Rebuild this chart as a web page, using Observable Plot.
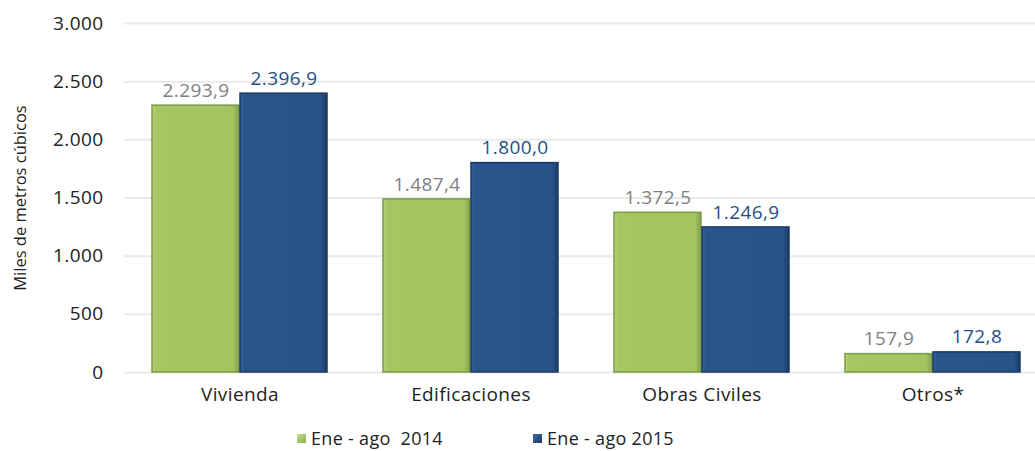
<!DOCTYPE html>
<html>
<head>
<meta charset="utf-8">
<script src="https://cdn.jsdelivr.net/npm/d3@7"></script>
<script src="https://cdn.jsdelivr.net/npm/@observablehq/plot@0.6"></script>
<style>
  html, body { margin: 0; padding: 0; background: #fff; }
  body { width: 1035px; height: 451px; overflow: hidden; font-family: "Open Sans", sans-serif; }
  #chart svg { display: block; overflow: visible; }
  #chart svg text { letter-spacing: 0.4px; }
  .legend { position: relative; height: 36px; font-size: 18px; color: #222; letter-spacing: 0.3px; }
  .legend .item { position: absolute; top: 11px; display: flex; align-items: center; white-space: pre; }
  .legend .sw { width: 9px; height: 9px; margin-right: 5px; }
</style>
</head>
<body>
<div id="chart"></div>
<div class="legend" id="legend"></div>
<script>
const categories = ["Vivienda", "Edificaciones", "Obras Civiles", "Otros*"];
const seriesNames = ["Ene - ago  2014", "Ene - ago 2015"];
const values2014 = [2293.9, 1487.4, 1372.5, 157.9];
const values2015 = [2396.9, 1800.0, 1246.9, 172.8];
const yTicks = [0, 500, 1000, 1500, 2000, 2500, 3000];
const colors = ["#a4c462", "#29528a"];
const strokes = ["#7d9a44", "#1a3a62"];
const labelColors = ["#7f7f7f", "#1f4f86"];

const loc = d3.formatLocale({decimal: ",", thousands: ".", grouping: [3], currency: ["", ""]});
const fmtTick = loc.format(",.0f");
const fmtVal = loc.format(",.1f");

const rows = (vals, s) => categories.map((c, i) => ({cat: c, series: s, value: vals[i]}));
const data2014 = rows(values2014, seriesNames[0]);
const data2015 = rows(values2015, seriesNames[1]);

const chart = Plot.plot({
  width: 1035,
  height: 415,
  marginTop: 23,
  marginBottom: 43,
  marginLeft: 124,
  marginRight: -13,
  style: {fontFamily: "Open Sans, sans-serif", fontSize: "19px", color: "#222", background: "transparent"},
  fx: {domain: categories, padding: 0, label: null, tickSize: 0, tickPadding: 15},
  x: {domain: seriesNames, paddingInner: 0.017, paddingOuter: 0.32, axis: null},
  y: {domain: [0, 3000], ticks: yTicks, tickFormat: fmtTick, tickSize: 0, tickPadding: 21, label: null},
  marks: [
    Plot.ruleY(yTicks, {stroke: "#e9e9e9", strokeWidth: 2}),
    Plot.barY(data2014, {fx: "cat", x: "series", y: "value", fill: "url(#gGreen)", stroke: strokes[0], strokeWidth: 1.5}),
    Plot.barY(data2015, {fx: "cat", x: "series", y: "value", fill: "url(#gBlue)", stroke: strokes[1], strokeWidth: 1.5}),
    Plot.text(data2014, {fx: "cat", x: "series", y: "value", text: d => fmtVal(d.value), dy: -15, fill: labelColors[0], fontSize: 19}),
    Plot.text(data2015, {fx: "cat", x: "series", y: "value", text: d => fmtVal(d.value), dy: -15, fill: labelColors[1], fontSize: 19})
  ]
});
document.getElementById("chart").appendChild(chart);

const svg = d3.select(chart);
const defs = svg.insert("defs", ":first-child");
function grad(id, stops) {
  const g = defs.append("linearGradient").attr("id", id).attr("x1", 0).attr("x2", 1).attr("y1", 0).attr("y2", 0);
  stops.forEach(([o, c]) => g.append("stop").attr("offset", o).attr("stop-color", c));
}
grad("gGreen", [[0, "#b4d178"], [0.05, "#a6c664"], [0.93, "#a4c462"], [1, "#83a04a"]]);
grad("gBlue", [[0, "#35629c"], [0.05, "#2a548c"], [0.93, "#28528a"], [1, "#1c3b66"]]);

// y-axis title
svg.append("text")
  .attr("transform", "translate(26,198) rotate(-90)")
  .attr("text-anchor", "middle")
  .attr("font-size", 16.5)
  .style("letter-spacing", "0px")
  .attr("fill", "#222")
  .text("Miles de metros cúbicos");

// legend
const legend = document.getElementById("legend");
const legendX = [297, 533];
const swatchBg = ["linear-gradient(135deg, #c2dc8a, #8fb04e)", "linear-gradient(135deg, #3d6ba6, #1c3b66)"];
seriesNames.forEach((s, i) => {
  const it = document.createElement("div");
  it.className = "item";
  it.style.left = legendX[i] + "px";
  const sw = document.createElement("span");
  sw.className = "sw";
  sw.style.background = swatchBg[i];
  it.appendChild(sw);
  const t = document.createElement("span");
  t.textContent = s;
  it.appendChild(t);
  legend.appendChild(it);
});
</script>
</body>
</html>
